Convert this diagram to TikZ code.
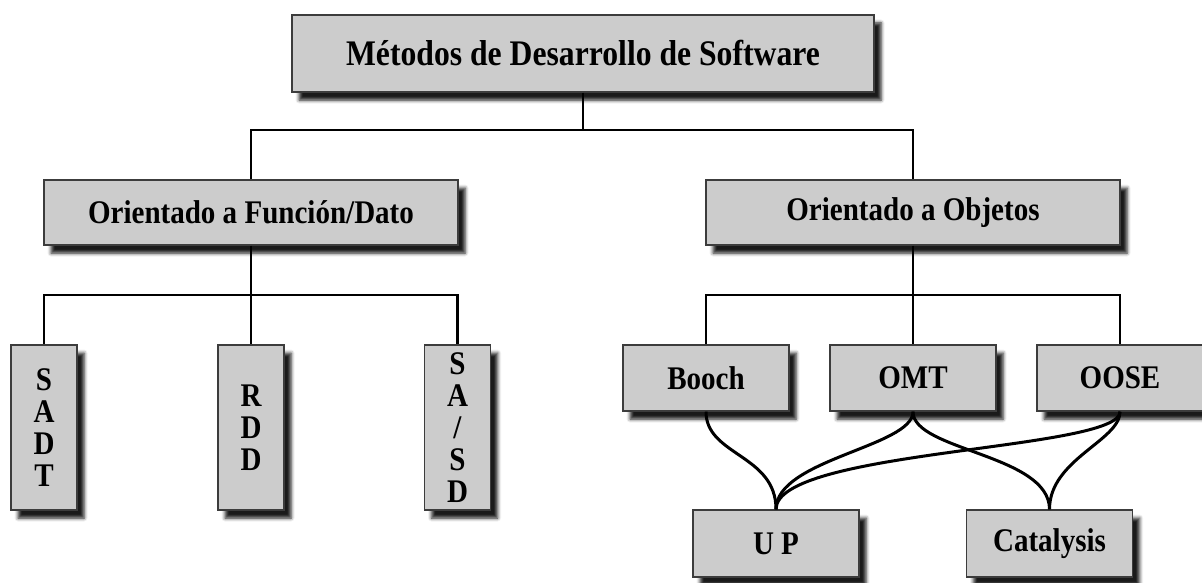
\documentclass[tikz,border=0pt]{standalone}
\usepackage{fontspec}
\setmainfont{Liberation Serif}[FakeStretch=0.88]
\usetikzlibrary{shadows.blur}
\definecolor{boxfill}{HTML}{CCCCCC}
\definecolor{boxline}{HTML}{3C3C3C}
\tikzset{
  box/.style={draw=boxline, line width=1.4pt, fill=boxfill, inner sep=0pt,
    align=center, text=black,
    font=\fontsize{33}{32}\selectfont\bfseries,
    blur shadow={shadow xshift=7pt, shadow yshift=-8pt, shadow blur radius=3.5pt, shadow opacity=90}},
  wire/.style={draw=black, line width=2.7pt},
  curvewire/.style={draw=black, line width=3pt},
}
\begin{document}
\begin{tikzpicture}[x=1pt, y=-1pt]
\useasboundingbox (0,0) rectangle (1202,583);
% nodes
\node[box, minimum width=582pt, minimum height=77pt, font=\fontsize{36}{38}\selectfont\bfseries] (top) at (583,53.5) {Métodos de Desarrollo de Software};
\node[box, minimum width=414pt, minimum height=65pt] (midL) at (251,212.5) {Orientado a Función/Dato};
\node[box, minimum width=414pt, minimum height=65pt] (midR) at (913,212.5) {Orientado a Objetos};
\node[box, minimum width=66pt, minimum height=165pt] (sadt) at (44,427.5) {S\\A\\D\\T};
\node[box, minimum width=66pt, minimum height=165pt] (rdd) at (251,427.5) {R\\D\\D};
\node[box, minimum width=66pt, minimum height=165pt] (sasd) at (457.5,427.5) {S\\A\\/\\S\\D};
\node[box, minimum width=166pt, minimum height=66pt] (booch) at (706,378) {Booch};
\node[box, minimum width=166pt, minimum height=66pt] (omt) at (913,378) {OMT};
\node[box, minimum width=166pt, minimum height=66pt] (oose) at (1120,378) {OOSE};
\node[box, minimum width=166pt, minimum height=67pt] (up) at (776,543.5) {U P};
\node[box, minimum width=166pt, minimum height=67pt] (cat) at (1049.5,543.5) {Catalysis};
% bus coordinates
\coordinate (bus1) at (583,130);
\coordinate (busL) at (251,295);
\coordinate (busR) at (913,295);
% connectors
\draw[wire] (top.south) -- (bus1) -| (midL.north);
\draw[wire] (bus1) -| (midR.north);
\draw[wire] (midL.south) -- (busL) -| (sadt.north);
\draw[wire] (busL) -| (sasd.north);
\draw[wire] (busL) -- (rdd.north);
\draw[wire] (midR.south) -- (busR) -| (booch.north);
\draw[wire] (busR) -| (oose.north);
\draw[wire] (busR) -- (omt.north);
\draw[curvewire] (booch.south) .. controls +(0,44) and +(0,-55) .. (up.north);
\draw[curvewire] (omt.south) .. controls +(0,35) and +(0,-50) .. (up.north);
\draw[curvewire] (oose.south) .. controls +(0,39) and +(0,-60) .. (up.north);
\draw[curvewire] (omt.south) .. controls +(0,39) and +(0,-55) .. (cat.north);
\draw[curvewire] (oose.south) .. controls +(0,29) and +(0,-50) .. (cat.north);
\end{tikzpicture}
\end{document}
